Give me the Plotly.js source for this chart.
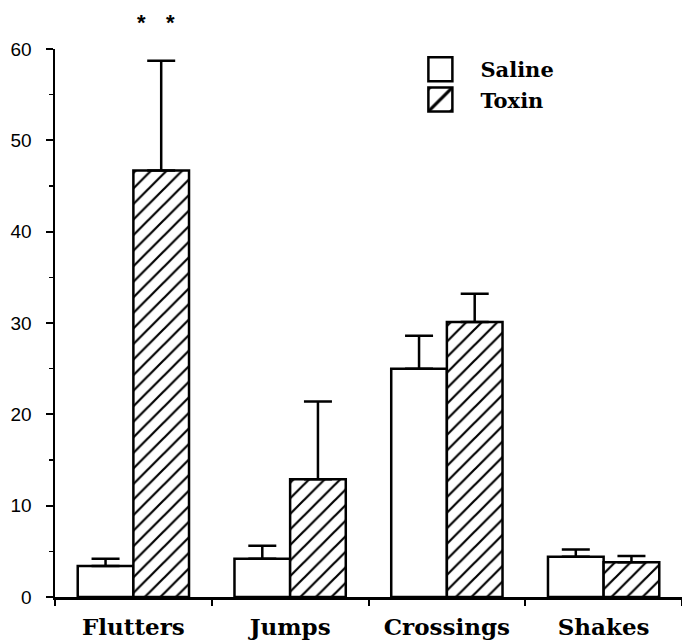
<!DOCTYPE html>
<html><head><meta charset="utf-8">
<script src="https://cdn.plot.ly/plotly-3.0.1.min.js"></script>
<style>
html,body{margin:0;padding:0;background:#fff;}
#chart{width:682px;height:644px;}
.legendpoints path{transform:translate(28px,0px) scale(2);vector-effect:non-scaling-stroke;}
</style>
</head><body>
<div id="chart"></div>
<script>
const categories = ["Flutters", "Jumps", "Crossings", "Shakes"];
const salineMean = [3.4, 4.2, 25.0, 4.4];
const salineErr  = [0.8, 1.4, 3.6, 0.8];
const toxinMean  = [46.7, 12.9, 30.1, 3.8];
const toxinErr   = [12.0, 8.5, 3.1, 0.7];
const zeros = [0, 0, 0, 0];
const yTickVals = [0, 10, 20, 30, 40, 50, 60];

const errStyle = (arr) => ({type: "data", symmetric: false, array: arr, arrayminus: zeros,
  color: "#000", thickness: 2.5, width: 14});

const traces = [
  {type: "bar", name: "Saline", x: categories, y: salineMean,
   marker: {color: "#fff", line: {color: "#000", width: 2.5}},
   error_y: errStyle(salineErr)},
  {type: "bar", name: "Toxin", x: categories, y: toxinMean,
   marker: {color: "#fff", line: {color: "#000", width: 2.5},
            pattern: {shape: "/", size: 11, solidity: 0.2, fgcolor: "#000", bgcolor: "#fff"}},
   error_y: errStyle(toxinErr)}
];

const layout = {
  width: 682, height: 644,
  margin: {l: 55, r: 0, t: 49, b: 47},
  paper_bgcolor: "#fff", plot_bgcolor: "#fff",
  barmode: "group", bargap: 0.29, bargroupgap: 0,
  showlegend: true,
  legend: {x: 0.57, y: 1.0, xanchor: "left", yanchor: "top",
           font: {family: "DejaVu Serif", size: 21, weight: "bold", color: "#000"},
           tracegroupgap: 4, itemwidth: 58, bgcolor: "rgba(0,0,0,0)"},
  xaxis: {type: "category", showgrid: false, zeroline: false,
          showline: true, linecolor: "#000", linewidth: 2.5,
          ticks: "outside", tickson: "boundaries", ticklen: 6, tickwidth: 2, tickcolor: "#000",
          tickfont: {family: "DejaVu Serif", size: 23, weight: "bold", color: "#000"},
          ticklabelstandoff: 8, fixedrange: true},
  yaxis: {range: [0, 60], showgrid: false, zeroline: false,
          showline: true, linecolor: "#000", linewidth: 2.5,
          tickmode: "array", tickvals: yTickVals, ticktext: yTickVals.map(String),
          ticks: "outside", ticklen: 7, tickwidth: 2, tickcolor: "#000",
          minor: {dtick: 5, ticks: "outside", ticklen: 4, tickwidth: 1.5, tickcolor: "#000", showgrid: false},
          tickfont: {family: "Liberation Sans", size: 19, color: "#000"},
          ticklabelstandoff: 10, fixedrange: true},
  annotations: [
    {x: "Flutters", y: 1.075, xref: "x", yref: "paper", text: "<b>*</b>", showarrow: false, xshift: 8,
     font: {family: "Liberation Sans", size: 22, color: "#000"}},
    {x: "Flutters", y: 1.075, xref: "x", yref: "paper", text: "<b>*</b>", showarrow: false, xshift: 37,
     font: {family: "Liberation Sans", size: 22, color: "#000"}}
  ]
};

Plotly.newPlot("chart", traces, layout, {displayModeBar: false, staticPlot: true});
</script>
</body></html>
